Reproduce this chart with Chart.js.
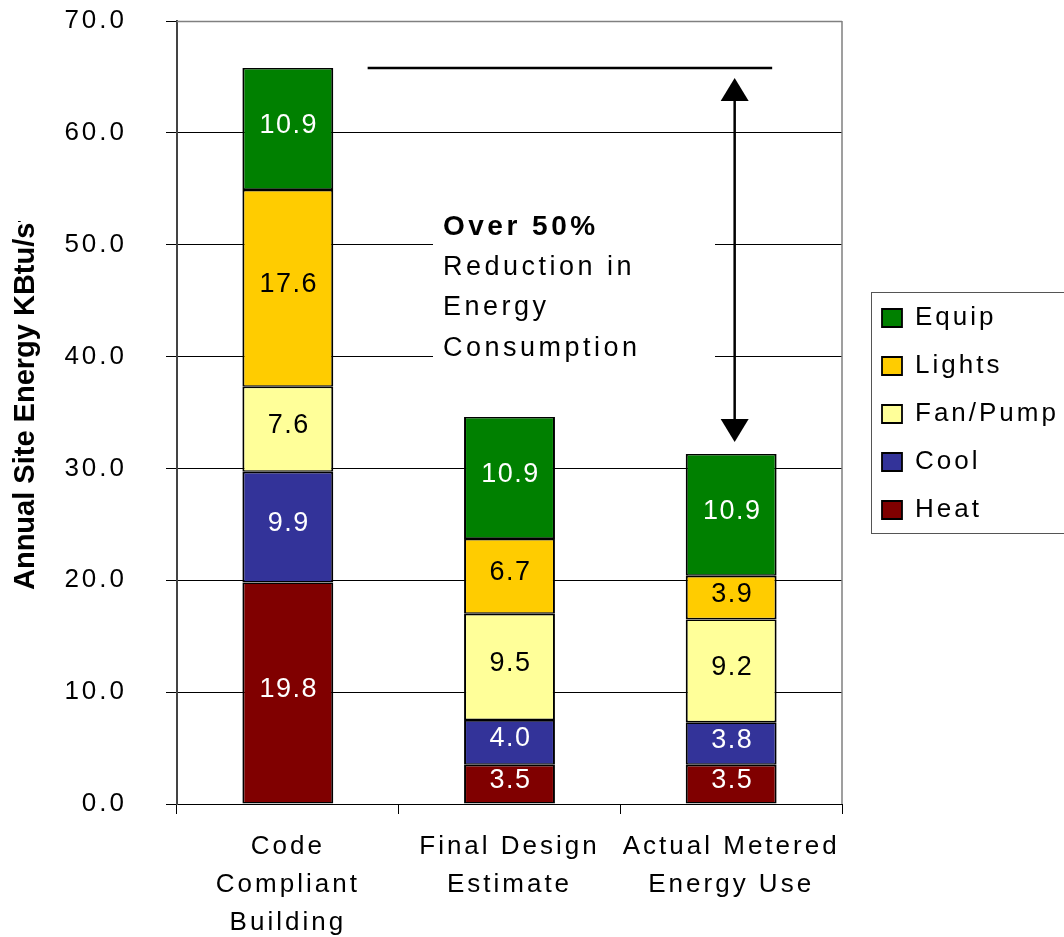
<!DOCTYPE html>
<html>
<head>
<meta charset="utf-8">
<script src="https://cdn.jsdelivr.net/npm/chart.js@4.4.1/dist/chart.umd.min.js"></script>
<style>
  html, body { margin: 0; padding: 0; background: #fff; }
  #wrap { width: 1064px; height: 937px; position: relative; }
  canvas { display: block; }
</style>
</head>
<body>
<div id="wrap"><canvas id="chart" width="1064" height="937"></canvas></div>
<script>
// ---- data ----
const categories = [
  ['Code', 'Compliant', 'Building'],
  ['Final Design', 'Estimate'],
  ['Actual Metered', 'Energy Use']
];
const seriesNames = ['Heat', 'Cool', 'Fan/Pump', 'Lights', 'Equip'];
const heat    = [19.8, 3.5, 3.5];
const cool    = [9.9, 4.0, 3.8];
const fanPump = [7.6, 9.5, 9.2];
const lights  = [17.6, 6.7, 3.9];
const equip   = [10.9, 10.9, 10.9];
const yTickValues = [0, 10, 20, 30, 40, 50, 60, 70];
const yTitle = 'Annual Site Energy KBtu/sf';
const noteLines = ['Over 50%', 'Reduction in', 'Energy', 'Consumption'];

// ---- styles ----
const FONT = '"Liberation Sans", Arial, sans-serif';
const fills = ['#800000', '#333399', '#FFFF99', '#FFCC00', '#008000'];
const valueInk = ['#ffffff', '#ffffff', '#000000', '#000000', '#ffffff'];
const seriesValues = [heat, cool, fanPump, lights, equip];

const datasets = seriesNames.map((name, i) => ({
  label: name,
  data: seriesValues[i],
  backgroundColor: fills[i],
  borderColor: '#000000',
  borderWidth: { left: 2, right: 2, top: 1.6, bottom: 1.6 },
  borderSkipped: false,
  inflateAmount: 0,
  valueInk: valueInk[i]
}));

function stackTotal(index) {
  return seriesValues.reduce((s, arr) => s + arr[index], 0);
}

// letter spacing is part of the context state; re-apply whenever it may be reset
const spacingPlugin = {
  id: 'spacing',
  beforeUpdate(chart) { chart.ctx.letterSpacing = '3px'; },
  beforeDraw(chart) { chart.ctx.letterSpacing = '3px'; }
};

// legend sits in its own framed box to the right of the plot
const legendPlacement = {
  id: 'legendPlacement',
  afterLayout(chart) {
    const lg = chart.legend;
    lg.left = 860; lg.top = 283; lg.right = 1064; lg.bottom = 560;
    lg.width = lg.right - lg.left; lg.height = lg.bottom - lg.top;
  },
  afterDraw(chart) {
    const ctx = chart.ctx;
    ctx.save();
    ctx.strokeStyle = '#555';
    ctx.lineWidth = 1;
    ctx.strokeRect(871.5, 292.5, 260, 241);
    ctx.restore();
  }
};

// plot frame + white panel behind the note text
const framePlugin = {
  id: 'frame',
  beforeDatasetsDraw(chart) {
    const { ctx, chartArea: a } = chart;
    ctx.save();
    ctx.strokeStyle = '#808080';
    ctx.lineWidth = 1.5;
    ctx.beginPath();
    ctx.moveTo(a.left, a.top + 0.5);
    ctx.lineTo(a.right, a.top + 0.5);
    ctx.moveTo(a.right, a.top);
    ctx.lineTo(a.right, a.bottom);
    ctx.stroke();
    ctx.fillStyle = '#ffffff';
    ctx.fillRect(433, 200, 282, 172);
    ctx.restore();
  }
};

// segment values written inside each stacked block
const valueLabels = {
  id: 'valueLabels',
  afterDatasetsDraw(chart) {
    const ctx = chart.ctx;
    ctx.save();
    ctx.letterSpacing = '1.5px';
    ctx.font = '27px ' + FONT;
    ctx.textAlign = 'center';
    ctx.textBaseline = 'middle';
    chart.data.datasets.forEach((ds, di) => {
      const meta = chart.getDatasetMeta(di);
      meta.data.forEach((el, i) => {
        const p = el.getProps(['x', 'y', 'base'], true);
        ctx.fillStyle = ds.valueInk;
        ctx.fillText(ds.data[i].toFixed(1), p.x + 1, (p.y + p.base) / 2 - 3.5);
      });
    });
    ctx.restore();
  }
};

// reduction bracket: level line at the baseline total, arrow down to the metered total
const reductionNote = {
  id: 'reductionNote',
  afterDatasetsDraw(chart) {
    const { ctx } = chart;
    const xs = chart.scales.x, ys = chart.scales.y;
    const topY = ys.getPixelForValue(stackTotal(0));
    const lowY = ys.getPixelForValue(stackTotal(2));
    const x0 = xs.getPixelForValue(0.36);
    const x1 = xs.getPixelForValue(2.185);
    const ax = xs.getPixelForValue(2) + 3.5;
    ctx.save();
    ctx.strokeStyle = '#000';
    ctx.fillStyle = '#000';
    ctx.lineWidth = 2.5;
    ctx.beginPath();
    ctx.moveTo(x0, topY); ctx.lineTo(x1, topY);
    ctx.stroke();

    const tipTop = topY + 10, tipLow = lowY - 12, head = 23, half = 14;
    ctx.beginPath();
    ctx.moveTo(ax, tipTop + head - 1); ctx.lineTo(ax, tipLow - head + 1);
    ctx.stroke();
    ctx.beginPath();
    ctx.moveTo(ax, tipTop); ctx.lineTo(ax - half, tipTop + head); ctx.lineTo(ax + half, tipTop + head);
    ctx.closePath(); ctx.fill();
    ctx.beginPath();
    ctx.moveTo(ax, tipLow); ctx.lineTo(ax - half, tipLow - head); ctx.lineTo(ax + half, tipLow - head);
    ctx.closePath(); ctx.fill();

    ctx.textAlign = 'left';
    ctx.textBaseline = 'alphabetic';
    ctx.letterSpacing = '3.5px';
    const baselines = [235, 274.5, 315, 356];
    noteLines.forEach((t, i) => {
      ctx.font = (i === 0 ? 'bold 28px ' : '27px ') + FONT;
      ctx.fillText(t, 443, baselines[i]);
    });
    ctx.restore();
  }
};

// rotated axis title, cut off at the top edge of its text frame
const axisTitle = {
  id: 'axisTitle',
  afterDraw(chart) {
    const ctx = chart.ctx;
    ctx.save();
    ctx.beginPath();
    ctx.rect(0, 221, 80, 937 - 221);
    ctx.clip();
    ctx.translate(26, 590);
    ctx.rotate(-Math.PI / 2);
    ctx.letterSpacing = '0px';
    ctx.font = 'bold 29px ' + FONT;
    ctx.fillStyle = '#000';
    ctx.textAlign = 'left';
    ctx.textBaseline = 'middle';
    ctx.fillText(yTitle, 0, 0);
    ctx.restore();
  }
};

new Chart(document.getElementById('chart'), {
  type: 'bar',
  data: { labels: categories, datasets },
  options: {
    responsive: false,
    animation: false,
    devicePixelRatio: 1,
    layout: { padding: { top: 21, left: 0, right: 221, bottom: 0 } },
    datasets: { bar: { categoryPercentage: 1, barPercentage: 0.41 } },
    plugins: {
      tooltip: { enabled: false },
      title: { display: false },
      legend: {
        display: true,
        position: 'right',
        align: 'start',
        reverse: true,
        maxWidth: 1,
        labels: {
          boxWidth: 20,
          boxHeight: 18,
          padding: 22,
          color: '#000',
          font: { family: FONT, size: 26 }
        }
      }
    },
    scales: {
      x: {
        stacked: true,
        offset: true,
        afterFit(scale) { scale.height = 133; },
        grid: { display: true, drawOnChartArea: false, offset: true, tickLength: 10, color: '#000', lineWidth: 1 },
        border: { display: true, color: '#000', width: 1 },
        ticks: {
          color: '#000',
          padding: 14,
          maxRotation: 0,
          autoSkip: false,
          font: { family: FONT, size: 26, lineHeight: 38 / 26 }
        }
      },
      y: {
        stacked: true,
        min: 0,
        max: 70,
        afterFit(scale) {
          scale.width = 177;
          scale.paddingTop = 0;
          scale.paddingBottom = 0;
        },
        afterBuildTicks(scale) { scale.ticks = yTickValues.map(v => ({ value: v })); },
        grid: {
          color: c => (c.tick && c.tick.value === 70 ? '#808080' : '#000'),
          tickColor: '#000',
          tickLength: 11,
          lineWidth: 1
        },
        border: { display: true, color: '#444', width: 2 },
        ticks: {
          color: '#000',
          padding: 39,
          font: { family: FONT, size: 26 },
          callback: v => Number(v).toFixed(1)
        }
      }
    }
  },
  plugins: [spacingPlugin, legendPlacement, framePlugin, valueLabels, reductionNote, axisTitle]
});
</script>
</body>
</html>
